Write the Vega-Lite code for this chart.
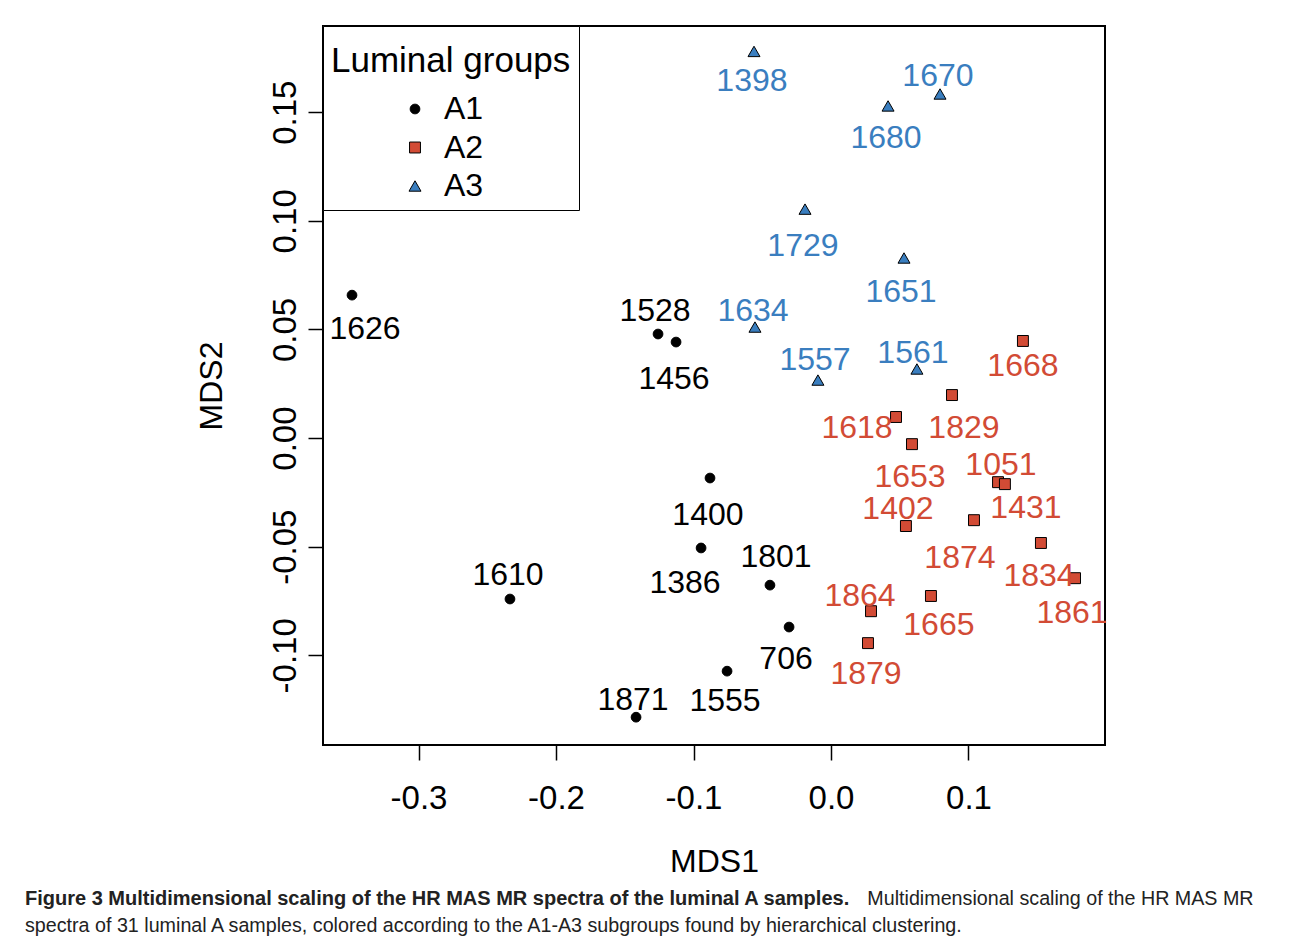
{
  "$schema": "https://vega.github.io/schema/vega-lite/v6.json",
  "width": 782,
  "height": 719,
  "padding": {"left": 25, "top": 25, "right": 5, "bottom": 5},
  "background": "white",
  "config": {
    "view": {"stroke": "black", "strokeWidth": 2},
    "font": "Liberation Sans",
    "locale": {"number": {"decimal": ".", "thousands": ",", "grouping": [3], "currency": ["$", ""], "minus": "-"}},
    "axis": {"grid": false, "domain": false, "tickColor": "black", "tickWidth": 1.5, "tickSize": 15, "labelColor": "black", "titleColor": "black", "labelFont": "Liberation Sans", "titleFont": "Liberation Sans", "titleFontWeight": "normal"}
  },
  "title": {
    "text": "Figure 3 Multidimensional scaling of the HR MAS MR spectra of the luminal A samples.",
    "subtitle": ["\u200b\u00a0\u00a0\u00a0\u00a0\u00a0\u00a0\u00a0\u00a0\u00a0\u00a0\u00a0\u00a0\u00a0\u00a0\u00a0\u00a0\u00a0\u00a0\u00a0\u00a0\u00a0\u00a0\u00a0\u00a0\u00a0\u00a0\u00a0\u00a0\u00a0\u00a0\u00a0\u00a0\u00a0\u00a0\u00a0\u00a0\u00a0\u00a0\u00a0\u00a0\u00a0\u00a0\u00a0\u00a0\u00a0\u00a0\u00a0\u00a0\u00a0\u00a0\u00a0\u00a0\u00a0\u00a0\u00a0\u00a0\u00a0\u00a0\u00a0\u00a0\u00a0\u00a0\u00a0\u00a0\u00a0\u00a0\u00a0\u00a0\u00a0\u00a0\u00a0\u00a0\u00a0\u00a0\u00a0\u00a0\u00a0\u00a0\u00a0\u00a0\u00a0\u00a0\u00a0\u00a0\u00a0\u00a0\u00a0\u00a0\u00a0\u00a0\u00a0\u00a0\u00a0\u00a0\u00a0\u00a0\u00a0\u00a0\u00a0\u00a0\u00a0\u00a0\u00a0\u00a0\u00a0\u00a0\u00a0\u00a0\u00a0\u00a0\u00a0\u00a0\u00a0\u00a0\u00a0\u00a0\u00a0\u00a0\u00a0\u00a0\u00a0\u00a0\u00a0\u00a0\u00a0\u00a0\u00a0\u00a0\u00a0\u00a0\u00a0\u00a0\u00a0\u00a0\u00a0\u00a0\u00a0\u00a0\u00a0\u00a0\u00a0\u00a0\u00a0\u00a0\u00a0\u00a0\u00a0\u00a0\u00a0\u00a0\u00a0\u00a0\u00a0\u00a0Multidimensional scaling of the HR MAS MR", "spectra of 31 luminal A samples, colored according to the A1-A3 subgroups found by hierarchical clustering."],
    "orient": "bottom",
    "anchor": "start",
    "frame": "group",
    "dx": -298,
    "offset": 12,
    "font": "Liberation Sans",
    "fontSize": 20,
    "fontWeight": "bold",
    "color": "#222222",
    "subtitleFont": "Liberation Sans",
    "subtitleFontSize": 19.7,
    "subtitleColor": "#222222",
    "subtitleLineHeight": 27,
    "subtitlePadding": -20
  },
  "data": {
    "values": [
      {"id": "1626", "group": "A1", "x": -0.3484, "y": 0.0658, "lx": -0.3389, "ly": 0.0502},
      {"id": "1528", "group": "A1", "x": -0.1258, "y": 0.0479, "lx": -0.1280, "ly": 0.0585},
      {"id": "1456", "group": "A1", "x": -0.1127, "y": 0.0442, "lx": -0.1142, "ly": 0.0272},
      {"id": "1400", "group": "A1", "x": -0.0880, "y": -0.0184, "lx": -0.0895, "ly": -0.0355},
      {"id": "1386", "group": "A1", "x": -0.0945, "y": -0.0506, "lx": -0.1062, "ly": -0.0668},
      {"id": "1801", "group": "A1", "x": -0.0444, "y": -0.0677, "lx": -0.0400, "ly": -0.0548},
      {"id": "1610", "group": "A1", "x": -0.2335, "y": -0.0741, "lx": -0.2349, "ly": -0.0631},
      {"id": "706", "group": "A1", "x": -0.0305, "y": -0.0870, "lx": -0.0327, "ly": -0.1017},
      {"id": "1555", "group": "A1", "x": -0.0756, "y": -0.1073, "lx": -0.0771, "ly": -0.1211},
      {"id": "1871", "group": "A1", "x": -0.1418, "y": -0.1285, "lx": -0.1440, "ly": -0.1206},
      {"id": "1668", "group": "A2", "x": 0.1396, "y": 0.0447, "lx": 0.1396, "ly": 0.0331},
      {"id": "1829", "group": "A2", "x": 0.0880, "y": 0.0198, "lx": 0.0967, "ly": 0.0046},
      {"id": "1618", "group": "A2", "x": 0.0473, "y": 0.0097, "lx": 0.0189, "ly": 0.0046},
      {"id": "1653", "group": "A2", "x": 0.0589, "y": -0.0028, "lx": 0.0575, "ly": -0.0180},
      {"id": "1051", "group": "A2", "x": 0.1215, "y": -0.0203, "lx": 0.1236, "ly": -0.0124},
      {"id": "1431", "group": "A2", "x": 0.1265, "y": -0.0212, "lx": 0.1418, "ly": -0.0322},
      {"id": "1402", "group": "A2", "x": 0.0545, "y": -0.0405, "lx": 0.0487, "ly": -0.0327},
      {"id": "1874", "group": "A2", "x": 0.1040, "y": -0.0378, "lx": 0.0938, "ly": -0.0552},
      {"id": "1834", "group": "A2", "x": 0.1527, "y": -0.0483, "lx": 0.1513, "ly": -0.0635},
      {"id": "1861", "group": "A2", "x": 0.1775, "y": -0.0645, "lx": 0.1753, "ly": -0.0806},
      {"id": "1665", "group": "A2", "x": 0.0727, "y": -0.0727, "lx": 0.0785, "ly": -0.0861},
      {"id": "1864", "group": "A2", "x": 0.0291, "y": -0.0797, "lx": 0.0211, "ly": -0.0727},
      {"id": "1879", "group": "A2", "x": 0.0269, "y": -0.0944, "lx": 0.0255, "ly": -0.1087},
      {"id": "1398", "group": "A3", "x": -0.0560, "y": 0.1780, "lx": -0.0575, "ly": 0.1644},
      {"id": "1680", "group": "A3", "x": 0.0415, "y": 0.1529, "lx": 0.0400, "ly": 0.1381},
      {"id": "1670", "group": "A3", "x": 0.0793, "y": 0.1584, "lx": 0.0778, "ly": 0.1667},
      {"id": "1729", "group": "A3", "x": -0.0189, "y": 0.1054, "lx": -0.0204, "ly": 0.0884},
      {"id": "1651", "group": "A3", "x": 0.0531, "y": 0.0829, "lx": 0.0509, "ly": 0.0672},
      {"id": "1634", "group": "A3", "x": -0.0553, "y": 0.0511, "lx": -0.0567, "ly": 0.0585},
      {"id": "1557", "group": "A3", "x": -0.0095, "y": 0.0267, "lx": -0.0116, "ly": 0.0359},
      {"id": "1561", "group": "A3", "x": 0.0625, "y": 0.0318, "lx": 0.0596, "ly": 0.0391}
    ]
  },
  "layer": [
    {
      "mark": {"type": "point", "filled": true, "stroke": "black", "strokeWidth": 1, "opacity": 1},
      "encoding": {
        "x": {"field": "x", "type": "quantitative", "title": "MDS1",
          "scale": {"domain": [-0.3695, 0.1993], "nice": false, "zero": false},
          "axis": {"values": [-0.3, -0.2, -0.1, 0, 0.1], "format": ".1f", "labelFontSize": 33, "labelPadding": 22, "titleFontSize": 32, "titlePadding": 31}},
        "y": {"field": "y", "type": "quantitative", "title": "MDS2",
          "scale": {"domain": [-0.1413, 0.1897], "nice": false, "zero": false},
          "axis": {"values": [-0.1, -0.05, 0, 0.05, 0.1, 0.15], "format": ".2f", "labelFontSize": 33, "labelAngle": -90, "labelAlign": "center", "labelBaseline": "bottom", "labelPadding": 6, "titleFontSize": 32, "titlePadding": 41}},
        "color": {"field": "group", "type": "nominal", "title": "Luminal groups",
          "scale": {"domain": ["A1", "A2", "A3"], "range": ["black", "#D24B35", "#3A7EBF"]},
          "legend": {"orient": "top-left", "offset": 0, "padding": 8, "strokeColor": "black", "fillColor": "white",
            "titleFontSize": 35, "titleFontWeight": "normal", "titleColor": "black", "titlePadding": 24, "titleLimit": 400,
            "titleBaseline": "line-top", "titleLineHeight": 55,
            "labelFontSize": 32, "labelColor": "black", "labelLimit": 200, "rowPadding": 6.5,
            "labelBaseline": "middle",
            "symbolOffset": 68, "labelOffset": 13, "symbolStrokeColor": "black", "symbolStrokeWidth": 1}},
        "shape": {"field": "group", "type": "nominal", "title": "Luminal groups",
          "scale": {"domain": ["A1", "A2", "A3"], "range": ["circle", "square", "triangle-up"]}},
        "size": {"field": "group", "type": "nominal", "title": "Luminal groups",
          "scale": {"domain": ["A1", "A2", "A3"], "range": [95, 144, 230]}}
      }
    },
    {
      "mark": {"type": "text", "fontSize": 32, "baseline": "middle", "align": "center", "font": "Liberation Sans"},
      "encoding": {
        "x": {"field": "lx", "type": "quantitative"},
        "y": {"field": "ly", "type": "quantitative"},
        "text": {"field": "id", "type": "nominal"},
        "color": {"field": "group", "type": "nominal", "title": "Luminal groups"}
      }
    }
  ]
}
